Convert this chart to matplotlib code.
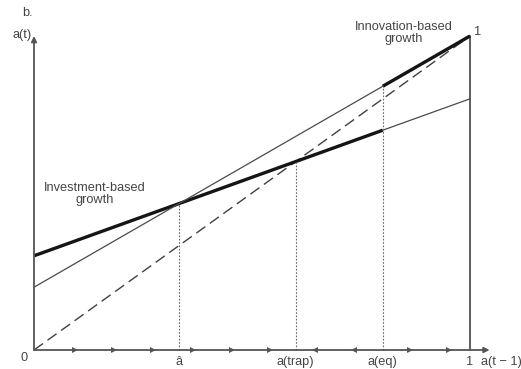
import matplotlib
matplotlib.use("Agg")
import matplotlib.pyplot as plt
import numpy as np

plt.rcParams['font.family'] = ['Liberation Sans', 'DejaVu Sans']

# Model parameters for the two growth regimes
investment_intercept = 0.3
investment_slope = 0.5
innovation_intercept = 0.2
innovation_slope = 0.8

# Key thresholds on the a(t-1) axis
a_hat = (investment_intercept - innovation_intercept) / (innovation_slope - investment_slope)
a_trap = investment_intercept / (1 - investment_slope)
a_eq = 0.8

# Dynamics arrows along the horizontal axis (position, direction)
arrow_pos = [0.094, 0.183, 0.273, 0.365, 0.454, 0.541, 0.644, 0.734, 0.862, 0.952]
arrow_dir = ['>', '>', '>', '>', '>', '>', '<', '<', '>', '>']

tick_pos = [a_hat, a_trap, a_eq, 1.0]
tick_labels = ['â', 'a(trap)', 'a(eq)', '1']

thick_col = '#151515'
thin_col = '#4a4a4a'
axis_col = '#555555'
text_col = '#444444'

fig = plt.figure(figsize=(5.21, 3.69), dpi=100)
ax = fig.add_axes([0, 0, 1, 1])
ax.set_xlim(-34 / 436, (521 - 34) / 436)
ax.set_ylim(-19 / 314, (369 - 19) / 314)
ax.axis('off')

# Axes with arrowheads
ax.annotate('', xy=(1.045, 0), xytext=(0, 0),
            arrowprops=dict(arrowstyle='-|>', color=axis_col, lw=1.3,
                            mutation_scale=8, shrinkA=0, shrinkB=0))
ax.annotate('', xy=(0, 1.0), xytext=(0, 0),
            arrowprops=dict(arrowstyle='-|>', color=axis_col, lw=1.3,
                            mutation_scale=8, shrinkA=0, shrinkB=0))

# Right boundary at a = 1
ax.plot([1, 1], [0, 1], color='#333333', lw=1.1)

# 45-degree line
x = np.array([0, 1.0])
ax.plot(x, x, color='#404040', lw=1.0, dashes=(8, 4))

# Investment-based regime: thick up to a(eq), thin after
xi1 = np.array([0, a_eq])
xi2 = np.array([a_eq, 1.0])
ax.plot(xi1, investment_intercept + investment_slope * xi1, color=thick_col, lw=2.4,
        solid_capstyle='butt')
ax.plot(xi2, investment_intercept + investment_slope * xi2, color=thin_col, lw=0.9)

# Innovation-based regime: thin up to a(eq), thick after
ax.plot(xi1, innovation_intercept + innovation_slope * xi1, color=thin_col, lw=0.9)
ax.plot(xi2, innovation_intercept + innovation_slope * xi2, color=thick_col, lw=2.4,
        solid_capstyle='butt')

# Dotted guides at thresholds
dot = dict(color='#666666', lw=0.8, ls=(0, (1.5, 1.5)))
ax.plot([a_hat, a_hat], [0, investment_intercept + investment_slope * a_hat], **dot)
ax.plot([a_trap, a_trap], [0, a_trap], **dot)
ax.plot([a_eq, a_eq], [0, innovation_intercept + innovation_slope * a_eq], **dot)

# Direction arrows on the axis
for p, d in zip(arrow_pos, arrow_dir):
    ax.plot(p, 0, marker=d, color=axis_col, markersize=4.8, markeredgewidth=0)

# Tick labels
fs = 9.2
for p, lab in zip(tick_pos, tick_labels):
    ax.text(p, -0.037, lab, ha='center', va='center', fontsize=fs, color=text_col)
ax.text(-0.022, -0.025, '0', ha='center', va='center', fontsize=fs, color=text_col)
ax.text(1.072, -0.037, 'a(t − 1)', ha='center', va='center', fontsize=fs, color=text_col)
ax.text(-0.027, 1.003, 'a(t)', ha='center', va='center', fontsize=fs, color=text_col)
ax.text(-0.016, 1.073, 'b.', ha='center', va='center', fontsize=fs, color=text_col)
ax.text(1.018, 1.012, '1', ha='center', va='center', fontsize=fs, color=text_col)

# Regime annotations
ax.text(0.848, 1.01, 'Innovation-based\ngrowth', ha='center', va='center',
        fontsize=fs, color=text_col, linespacing=1.0)
ax.text(0.14, 0.497, 'Investment-based\ngrowth', ha='center', va='center',
        fontsize=fs, color=text_col, linespacing=1.0)

fig.savefig('out.png', dpi=100)
